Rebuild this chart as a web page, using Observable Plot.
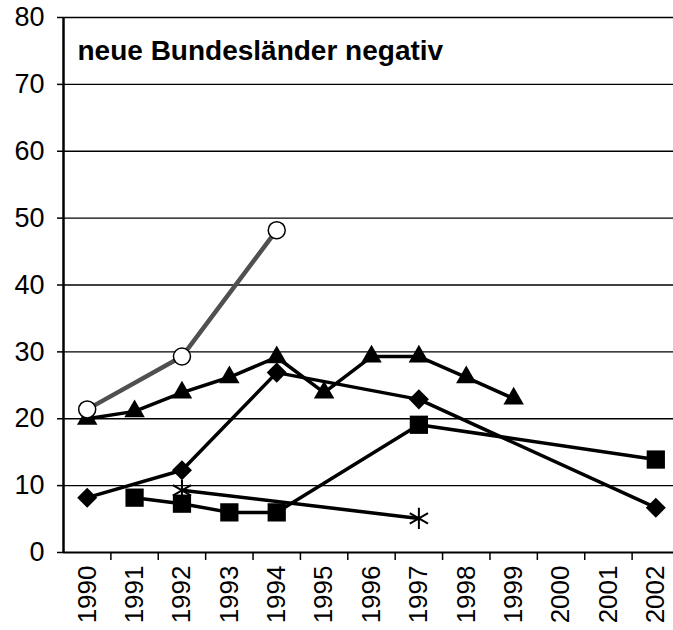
<!DOCTYPE html>
<html>
<head>
<meta charset="utf-8">
<script src="https://cdn.jsdelivr.net/npm/d3@7"></script>
<script src="https://cdn.jsdelivr.net/npm/@observablehq/plot@0.6"></script>
<style>
  html, body { margin: 0; padding: 0; background: #fff; }
  #chart { width: 673px; height: 630px; overflow: hidden; }
</style>
</head>
<body>
<div id="chart"></div>
<script>
const titleText = "neue Bundesländer negativ";
const yearLabels = [1990, 1991, 1992, 1993, 1994, 1995, 1996, 1997, 1998, 1999, 2000, 2001, 2002];
const yTicks = [0, 10, 20, 30, 40, 50, 60, 70, 80];

const circleYears = [1990, 1992, 1994];
const circleValues = [21.4, 29.3, 48.2];

const triangleYears = [1990, 1991, 1992, 1993, 1994, 1995, 1996, 1997, 1998, 1999];
const triangleValues = [20, 21.1, 23.9, 26.2, 29.2, 23.9, 29.3, 29.3, 26.2, 23];

const diamondYears = [1990, 1992, 1994, 1997, 2002];
const diamondValues = [8.2, 12.3, 26.9, 22.9, 6.7];

const squareYears = [1991, 1992, 1993, 1994, 1997, 2002];
const squareValues = [8.2, 7.3, 6.0, 6.0, 19.1, 13.9];

const asteriskYears = [1992, 1997];
const asteriskValues = [9.3, 5.1];

const toRows = (xs, ys) => xs.map((x, i) => ({year: x, value: ys[i]}));
const circles = toRows(circleYears, circleValues);
const triangles = toRows(triangleYears, triangleValues);
const diamonds = toRows(diamondYears, diamondValues);
const squares = toRows(squareYears, squareValues);
const asterisks = toRows(asteriskYears, asteriskValues);
const boundaries = yearLabels.slice(1).map(y => y - 0.5);

const font = "'Liberation Sans', Arial, Helvetica, sans-serif";
const lw = 3.5;

const chart = Plot.plot({
  width: 673,
  height: 630,
  marginLeft: 63,
  marginRight: 0,
  marginTop: 17,
  marginBottom: 78,
  style: {fontFamily: font, background: "#fff", color: "#000", overflow: "visible"},
  x: {type: "linear", domain: [1989.5, 2002.5], range: [63, 679], label: null},
  y: {domain: [0, 80], range: [552, 17], label: null},
  marks: [
    Plot.ruleY(yTicks.filter(d => d > 0), {stroke: "#000", strokeWidth: 1.4}),
    Plot.axisY({ticks: yTicks, label: null, tickSize: 6, tickPadding: 13, fontSize: 27, tickFormat: d => String(d), strokeWidth: 1.5}),
    Plot.axisX({ticks: yearLabels, label: null, tickSize: 0, tickPadding: 13, tickRotate: -90, fontSize: 26, tickFormat: d => String(d)}),
    Plot.axisX({ticks: boundaries, label: null, tickSize: 8, tickFormat: () => "", strokeWidth: 1.5}),
    Plot.ruleY([0], {stroke: "#000", strokeWidth: 2}),
    Plot.ruleX([1989.5], {stroke: "#000", strokeWidth: 2.5}),
    Plot.text([titleText], {frameAnchor: "top-left", dx: 14, dy: 23, fontSize: 28, fontWeight: "bold", fill: "#000", textAnchor: "start"}),
    // diamonds
    Plot.line(diamonds, {x: "year", y: "value", stroke: "#000", strokeWidth: lw}),
    Plot.dot(diamonds, {x: "year", y: "value", symbol: "square", r: 8, rotate: 45, fill: "#000", stroke: "none"}),
    // squares
    Plot.line(squares, {x: "year", y: "value", stroke: "#000", strokeWidth: lw}),
    Plot.dot(squares, {x: "year", y: "value", symbol: "square", r: 10.3, fill: "#000", stroke: "none"}),
    // asterisks
    Plot.line(asterisks, {x: "year", y: "value", stroke: "#000", strokeWidth: lw}),
    Plot.dot(asterisks, {x: "year", y: "value", symbol: "asterisk", r: 10, stroke: "#000", strokeWidth: 2, fill: "none"}),
    // triangles
    Plot.line(triangles, {x: "year", y: "value", stroke: "#000", strokeWidth: lw}),
    Plot.dot(triangles, {x: "year", y: "value", symbol: "triangle", r: 7.6, fill: "#000", stroke: "none"}),
    // circles
    Plot.line(circles, {x: "year", y: "value", stroke: "#505050", strokeWidth: 4.5}),
    Plot.dot(circles, {x: "year", y: "value", symbol: "circle", r: 8.5, fill: "#fff", stroke: "#000", strokeWidth: 1.5})
  ]
});
document.getElementById("chart").appendChild(chart);
</script>
</body>
</html>
